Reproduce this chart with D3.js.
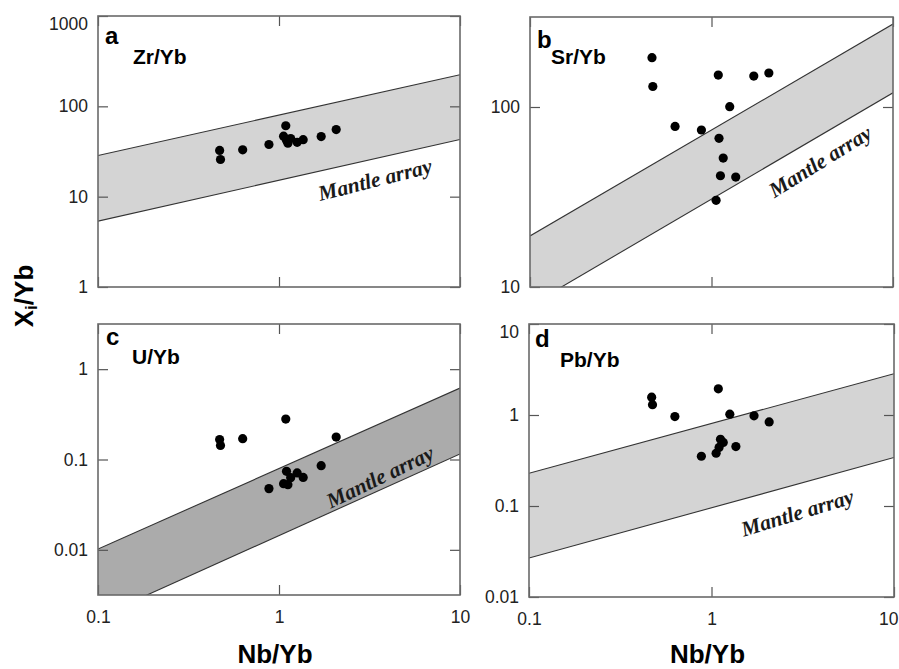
<!DOCTYPE html>
<html>
<head>
<meta charset="utf-8">
<script src="https://cdn.jsdelivr.net/npm/d3@7"></script>
<style>
  body { margin: 0; background: #fff; }
  svg { display: block; }
  .tick text { font-family: "Liberation Sans", Arial, sans-serif; font-size: 17.5px; fill: #222; }
  .tick line { stroke: #555; stroke-width: 1.2px; }
</style>
</head>
<body>
<div id="chart"></div>
<script>
//samples, Nb/Yb
var nbYb = [0.47, 0.475, 0.63, 0.88, 1.06, 1.09, 1.10, 1.12, 1.16, 1.26, 1.36, 1.71, 2.07];
//Xi/Yb for each panel, same order as nbYb
var zrYb = [32.5, 25.8, 33, 37.8, 46.7, 61, 42, 39, 44, 40, 42.7, 46.3, 55.3];
var srYb = [188, 130, 78, 74.5, 30.3, 150.5, 67, 41.5, 52, 100.4, 40.8, 148.6, 154.5];
var uYb = [0.166, 0.143, 0.170, 0.0476, 0.054, 0.280, 0.0739, 0.0527, 0.063, 0.071, 0.0634, 0.0855, 0.177];
var pbYb = [1.57, 1.30, 0.96, 0.352, 0.38, 1.94, 0.44, 0.54, 0.50, 1.02, 0.45, 0.98, 0.84];

//mantle array limits, values at Nb/Yb = 0.1 and 10
var arrayNb = [0.1, 10];
var zrUpper = [28.6, 224], zrLower = [5.36, 43];
var srUpper = [19.2, 289], srLower = [7.9, 120];
var uUpper = [0.0102, 0.617], uLower = [0.0018, 0.115];
var pbUpper = [0.229, 2.84], pbLower = [0.0268, 0.341];

//axes
var xTicks = [0.1, 1, 10];
var zrTicks = [1, 10, 100, 1000];
var srTicks = [10, 100];
var uTicks = [0.01, 0.1, 1];
var pbTicks = [0.01, 0.1, 1, 10];

var width = 899, height = 669;

var panels = [
  {id: "a", name: "Zr/Yb", y: zrYb, up: zrUpper, lo: zrLower, ticks: zrTicks, ydom: [1, 1000],
   left: 98, right: 460, top: 16, bottom: 287, fill: "#d4d4d4", xlab: false,
   letter: [7, 28], nameAt: [35, 48], mantle: [3.39, 15.5]},
  {id: "b", name: "Sr/Yb", y: srYb, up: srUpper, lo: srLower, ticks: srTicks, ydom: [10, Math.pow(10, 2.5)],
   left: 530, right: 893, top: 17, bottom: 287, fill: "#d4d4d4", xlab: false,
   letter: [7, 31], nameAt: [21, 47], mantle: [3.96, 50]},
  {id: "c", name: "U/Yb", y: uYb, up: uUpper, lo: uLower, ticks: uTicks, ydom: [Math.pow(10, -2.5), Math.pow(10, 0.5)],
   left: 98, right: 460, top: 324, bottom: 595, fill: "#ababab", xlab: true,
   letter: [8, 21], nameAt: [34, 40], mantle: [3.61, 0.0646]},
  {id: "d", name: "Pb/Yb", y: pbYb, up: pbUpper, lo: pbLower, ticks: pbTicks, ydom: [0.01, 10],
   left: 529, right: 894, top: 324, bottom: 597, fill: "#d4d4d4", xlab: true,
   letter: [6, 23], nameAt: [31, 43], mantle: [2.95, 0.0848]}
];

var svg = d3.select("#chart").append("svg")
  .attr("width", width)
  .attr("height", height);

var defs = svg.append("defs");

panels.forEach(function(p){

  var w = p.right - p.left, h = p.bottom - p.top;

  var x = d3.scaleLog().domain([0.1, 10]).range([0, w]);
  var y = d3.scaleLog().domain(p.ydom).range([h, 0]);

  var g = svg.append("g")
    .attr("transform", "translate(" + p.left + "," + p.top + ")");

  defs.append("clipPath").attr("id", "clip-" + p.id)
    .append("rect").attr("width", w).attr("height", h);

  var inner = g.append("g").attr("clip-path", "url(#clip-" + p.id + ")");

  //mantle array band
  var band = [
    [x(arrayNb[0]), y(p.up[0])], [x(arrayNb[1]), y(p.up[1])],
    [x(arrayNb[1]), y(p.lo[1])], [x(arrayNb[0]), y(p.lo[0])]
  ];
  inner.append("path")
    .attr("d", "M" + band.join("L") + "Z")
    .attr("fill", p.fill);

  [p.up, p.lo].forEach(function(l){
    inner.append("line")
      .attr("x1", x(arrayNb[0])).attr("y1", y(l[0]))
      .attr("x2", x(arrayNb[1])).attr("y2", y(l[1]))
      .attr("stroke", "#333")
      .attr("stroke-width", 1.1);
  });

  //axes, ticks pointing inwards on all four sides
  var gl = g.append("g")
    .call(d3.axisLeft(y).tickValues(p.ticks).tickSize(-10).tickSizeOuter(0).tickPadding(10)
      .tickFormat(function(d){ return String(d); }));
  gl.selectAll(".tick text")
    .attr("dy", function(d){ return (y(d) < 2) ? "0.75em" : "0.32em"; });

  g.append("g").attr("transform", "translate(" + w + ",0)")
    .call(d3.axisRight(y).tickValues(p.ticks).tickSize(-10).tickSizeOuter(0).tickFormat(""));

  g.append("g")
    .call(d3.axisTop(x).tickValues(xTicks).tickSize(-10).tickSizeOuter(0).tickFormat(""));

  var gb = g.append("g").attr("transform", "translate(0," + h + ")")
    .call(d3.axisBottom(x).tickValues(xTicks).tickSize(-10).tickSizeOuter(0).tickPadding(16)
      .tickFormat(p.xlab ? function(d){ return String(d); } : ""));
  //keep the last label inside the page
  gb.selectAll(".tick text")
    .attr("text-anchor", function(d){ return (p.left + x(d) + 12 > width) ? "end" : "middle"; })
    .attr("dx", function(d){ return (p.left + x(d) + 12 > width) ? 4 : 0; });

  g.selectAll(".domain").remove();

  //frame
  g.append("rect")
    .attr("width", w).attr("height", h)
    .attr("fill", "none")
    .attr("stroke", "#6a6a6a")
    .attr("stroke-width", 1.6);

  //samples
  inner.selectAll(".dot")
    .data(nbYb)
    .enter()
    .append("circle")
    .attr("class", "dot")
    .attr("cx", function(d){ return x(d); })
    .attr("cy", function(d, i){ return y(p.y[i]); })
    .attr("r", 4.6)
    .attr("fill", "#000");

  //mantle array label, rotated along the lower limit
  var ang = Math.atan2(y(p.lo[1]) - y(p.lo[0]), x(arrayNb[1]) - x(arrayNb[0])) * 180 / Math.PI - 1.5;
  g.append("text")
    .attr("transform", "translate(" + x(p.mantle[0]) + "," + y(p.mantle[1]) + ") rotate(" + ang + ")")
    .attr("text-anchor", "middle")
    .attr("dy", "0.35em")
    .style("font-family", "'Liberation Serif', 'Times New Roman', serif")
    .style("font-weight", "bold")
    .style("font-style", "italic")
    .style("font-size", "21.5px")
    .style("fill", "#1a1a1a")
    .text("Mantle array");

  //panel letter and element ratio
  g.append("text")
    .attr("x", p.letter[0]).attr("y", p.letter[1])
    .style("font-family", "'Liberation Sans', Arial, sans-serif")
    .style("font-weight", "bold")
    .style("font-size", "24px")
    .text(p.id);

  g.append("text")
    .attr("x", p.nameAt[0]).attr("y", p.nameAt[1])
    .style("font-family", "'Liberation Sans', Arial, sans-serif")
    .style("font-weight", "bold")
    .style("font-size", "21px")
    .text(p.name);

  if(p.xlab){
    svg.append("text")
      .attr("x", p.left + w / 2 - 4)
      .attr("y", 663)
      .attr("text-anchor", "middle")
      .style("font-family", "'Liberation Sans', Arial, sans-serif")
      .style("font-weight", "bold")
      .style("font-size", "26px")
      .text("Nb/Yb");
  }
});

//y title
var yt = svg.append("text")
  .attr("transform", "translate(33,296) rotate(-90)")
  .attr("text-anchor", "middle")
  .style("font-family", "'Liberation Sans', Arial, sans-serif")
  .style("font-weight", "bold")
  .style("font-size", "26px");
yt.append("tspan").text("X");
yt.append("tspan").attr("baseline-shift", "-25%").style("font-size", "17px").text("i");
yt.append("tspan").text("/Yb");
</script>
</body>
</html>
